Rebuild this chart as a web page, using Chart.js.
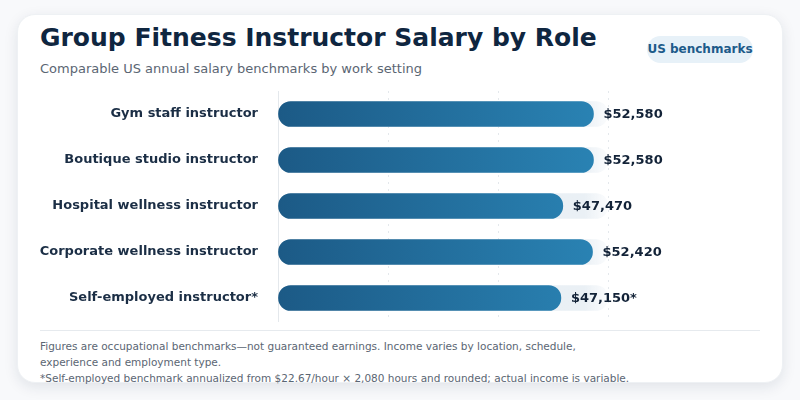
<!DOCTYPE html>
<html>
<head>
<meta charset="utf-8">
<script src="https://cdn.jsdelivr.net/npm/chart.js@4/dist/chart.umd.min.js"></script>
<style>
  html, body { margin: 0; padding: 0; width: 800px; height: 400px; background: #f8f9fb; font-family: "DejaVu Sans", sans-serif; overflow: hidden; }
  .card { position: absolute; left: 17px; top: 14px; width: 766px; height: 369px; background: #fff; border-radius: 18px; box-shadow: 0 4px 14px rgba(20,40,70,0.10); border: 1px solid #eef1f4; box-sizing: border-box; }
  .title { position: absolute; left: 40px; top: 23px; font-size: 25px; font-weight: bold; color: #0f2640; white-space: nowrap; }
  .subtitle { position: absolute; left: 40px; top: 61px; font-size: 13px; color: #5b6673; white-space: nowrap; }
  .badge { position: absolute; left: 647px; top: 36px; width: 106px; height: 27px; border-radius: 14px; background: #e7f1f8; color: #1d5b8a; font-size: 12px; font-weight: bold; line-height: 27px; text-align: center; white-space: nowrap; }
  .chartbox { position: absolute; left: 40px; top: 89px; width: 720px; height: 234px; }
  .divider { position: absolute; left: 40px; top: 330px; width: 720px; height: 1px; background: #e6eaee; }
  .footer { position: absolute; left: 40px; top: 338px; font-size: 10.5px; line-height: 16px; color: #5b6673; white-space: nowrap; }
</style>
</head>
<body>
<div class="card"></div>
<div class="title">Group Fitness Instructor Salary by Role</div>
<div class="subtitle">Comparable US annual salary benchmarks by work setting</div>
<div class="badge">US benchmarks</div>
<div class="chartbox"><canvas id="c" width="720" height="234"></canvas></div>
<div class="divider"></div>
<div class="footer">Figures are occupational benchmarks—not guaranteed earnings. Income varies by location, schedule,<br>experience and employment type.<br>*Self-employed benchmark annualized from $22.67/hour × 2,080 hours and rounded; actual income is variable.</div>
<script>
const categories = ["Gym staff instructor", "Boutique studio instructor", "Hospital wellness instructor", "Corporate wellness instructor", "Self-employed instructor*"];
const salaries = [52580, 52580, 47470, 52420, 47150];
const valueLabels = ["$52,580", "$52,580", "$47,470", "$52,420", "$47,150*"];
const axisMax = 55000;
const trackValues = categories.map(() => axisMax);

function barGradient(ctx) {
  const ca = ctx.chart.chartArea;
  if (!ca) return '#1f6a9a';
  const g = ctx.chart.ctx.createLinearGradient(ca.left, 0, ca.right, 0);
  g.addColorStop(0, '#1c5a86');
  g.addColorStop(1, '#2a84b5');
  return g;
}
function trackGradient(ctx) {
  const ca = ctx.chart.chartArea;
  if (!ca) return '#eaf0f5';
  const g = ctx.chart.ctx.createLinearGradient(ca.left, 0, ca.right, 0);
  g.addColorStop(0, 'rgba(232,239,244,1)');
  g.addColorStop(0.93, 'rgba(234,240,245,1)');
  g.addColorStop(1, 'rgba(240,244,248,0.3)');
  return g;
}

const valueLabelPlugin = {
  id: 'valueLabels',
  afterDatasetsDraw(chart) {
    const meta = chart.getDatasetMeta(0);
    const c = chart.ctx;
    c.save();
    c.font = 'bold 13px "DejaVu Sans"';
    c.fillStyle = '#132338';
    c.textAlign = 'left';
    c.textBaseline = 'middle';
    meta.data.forEach((bar, i) => {
      c.fillText(valueLabels[i], bar.x + 10, bar.y + 1);
    });
    c.restore();
  }
};

new Chart(document.getElementById('c'), {
  type: 'bar',
  data: {
    labels: categories,
    datasets: [
      { data: salaries, backgroundColor: barGradient, borderRadius: 13, borderSkipped: false, barThickness: 25, grouped: false },
      { data: trackValues, backgroundColor: trackGradient, borderRadius: 13, borderSkipped: false, barThickness: 25, grouped: false }
    ]
  },
  options: {
    indexAxis: 'y',
    responsive: false,
    animation: false,
    devicePixelRatio: 1,
    layout: { padding: { top: 2, bottom: 2, right: 152, left: 0 } },
    plugins: { legend: { display: false }, tooltip: { enabled: false } },
    scales: {
      x: {
        min: 0, max: axisMax,
        ticks: { display: false, count: 4 },
        grid: { color: '#e4e8ec', drawTicks: false, lineWidth: 1 },
        border: { display: false, dash: [2, 5] }
      },
      y: {
        afterFit(s) { s.width = 238; s.paddingTop = 0; s.paddingBottom = 0; },
        ticks: { padding: 20, color: '#1b2e45', font: { family: 'DejaVu Sans', size: 13, weight: 'bold' } },
        grid: { display: false, drawTicks: false },
        border: { display: true, color: '#e4e8ec', width: 1 }
      }
    }
  },
  plugins: [valueLabelPlugin]
});
</script>
</body>
</html>
